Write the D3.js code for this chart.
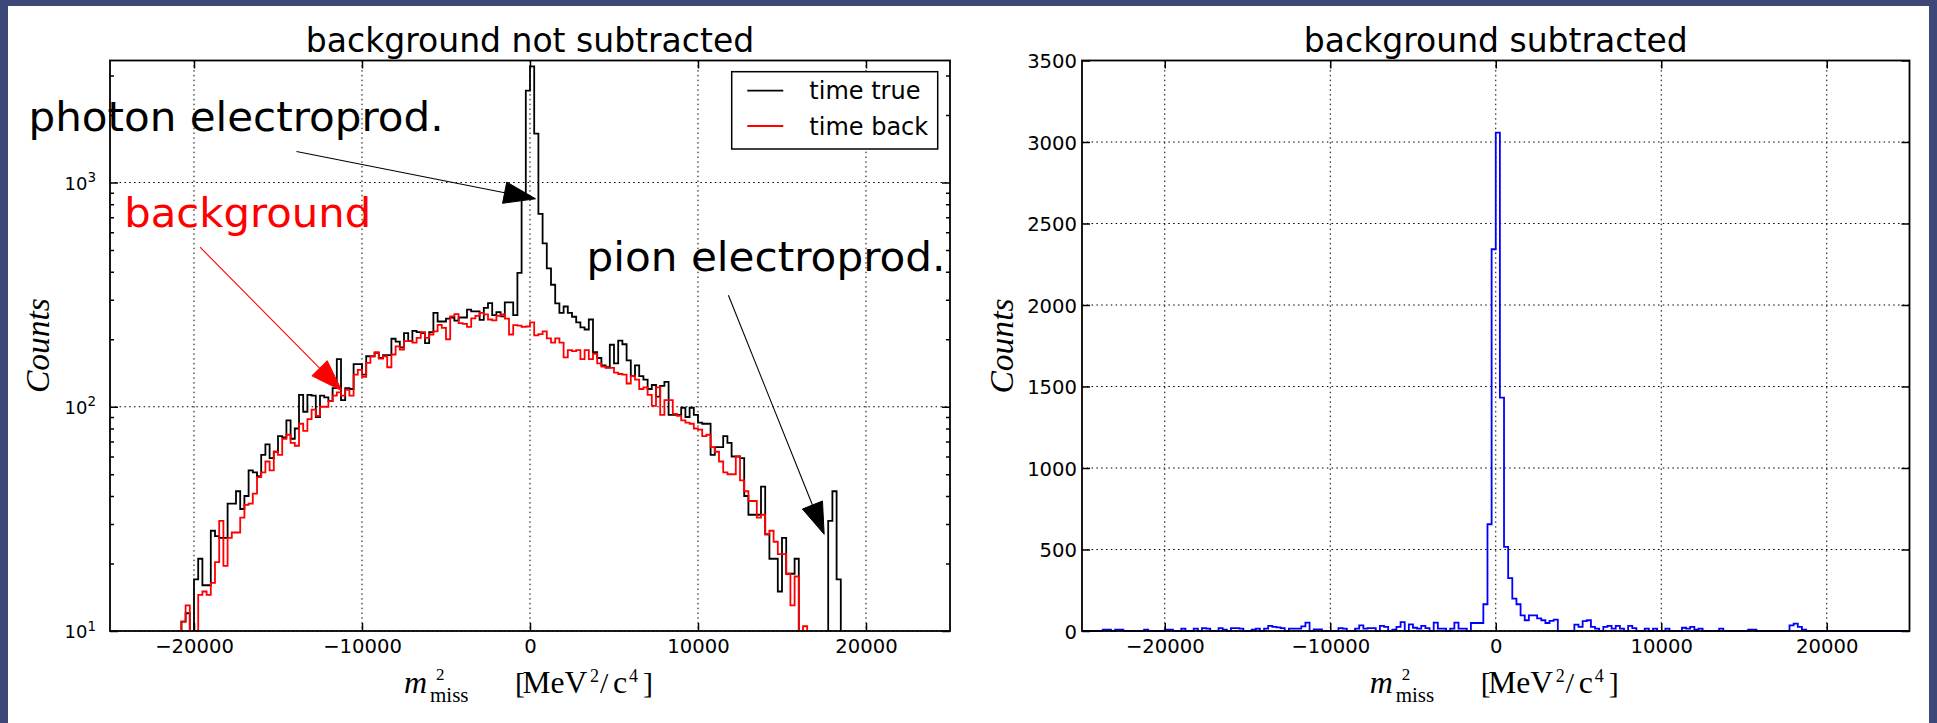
<!DOCTYPE html>
<html>
<head>
<meta charset="utf-8">
<script src="https://cdn.jsdelivr.net/npm/d3@7"></script>
<style>
  body { margin: 0; background: #3d4878; }
  svg { display: block; }
</style>
</head>
<body>
<div id="graf"></div>
<script>
// I. Datos (histogramas de 200 bins de 250 MeV^2/c^4, desde -25000)
const inicioBins = -25000
const anchoBin = 250

const timeTrue = [
  0,0,0,0,0,0,0,0,0,0, 0,0,0,0,0,0,0,11,12,0,
  17,21,16,16,28,26.5,26,26,37,37, 42,35,40,52,51,49,61,68,59,63,
  74,73,87,72,80,113,95,113,112,90, 112,110,106,121,163,107,121,120,155,155,
  139,168,168,174,165,170,170,201,195,184, 213,196,218,215,213,192,215,262,240,240,
  247,250,242,250,250,271,266,266,244,276, 290,256,264,253,292,292,256,395,880,2570,
  3296,1653,725,535,414,350,289,262,280,262, 252,238,226,221,245,175,165,153,150,189,
  156,197,190,161,137,153,137,132,120,125, 111,124,129,92,92,92,99,90,99,92,
  85,84,84,61,66,66,74,69,60,60, 59,40,33,33,33,44,27,21,21,15,
  26,18,18,21,0,0,0,0,0,0, 0,31,42,17,0,0,0,0,0,0,
  0,0,0,0,0,0,0,0,0,0, 0,0,0,0,0,0,0,0,0,0
]

const timeBack = [
  0,0,0,0,0,0,0,0,0,0, 0,0,0,0,0,0,0,11,13,0,
  9.5,14.5,15,14.5,16.4,20.3,31,19.5,26,27.5, 27.5,32,36.5,37,41,48.5,51,57,52,63,
  61,72,75,69,67,84,78,88,97,91, 100,100,106,112,116,112,119,112,139,146,
  136,157,168,175,164,168,150,171,186,180, 196,196,193,203,215,203,210,217,232,225,
  200,253,259,236,234,227,248,254,262,258, 245,243,254,258,247,210,231,230,227,228,
  238,208,211,217,202,193,202,193,166,179, 177,179,163,179,163,172,156,151,149,149,
  142,140,139,127,137,132,120,122,113,101, 122,92,107,107,93,91,87,85,84,80,
  79,74,75,66,63,57,51,50,50,60, 47,42,38,38,32,33,27,28,25,22,
  22,18,13,17.5,0,10.5,0,0,0,0, 0,0,0,0,0,0,0,0,0,0,
  0,0,0,0,0,0,0,0,0,0, 0,0,0,0,0,0,0,0,0,0
]

const restado = [
  0,0,0,0,0,8,8,0,8,8, 0,0,0,0,0,8,0,0,0,0,
  8,8,0,0,14,0,0,14,0,18, 14,0,0,18,8,0,18,18,14,0,
  0,8,14,0,14,31,25,22,18,0, 14,14,14,28,51,0,10,10,0,0,
  0,0,18,14,0,0,14,35,14,18, 18,0,31,25,0,8,25,55,0,41,
  20,14,31,18,0,51,14,14,0,14, 51,14,14,0,49,49,49,164,655,2342,
  3058,1432,516,325,199,164,96,66,96,96, 77,66,49,62,70,0,0,0,0,39,
  25,61,66,25,14,0,25,31,14,31, 14,0,31,18,0,0,14,0,14,0,
  0,14,0,0,0,20,14,25,8,14, 0,0,0,0,14,0,0,0,0,0,
  0,8,8,0,0,0,0,0,0,0, 0,35,45,25,8,0,0,0,0,0,
  0,0,0,0,0,0,0,0,0,0, 0,0,0,0,0,0,0,0,0,0
]

const xTicks = [-20000, -10000, 0, 10000, 20000]
const logTicks = [10, 100, 1000]
const logMenores = [20, 30, 40, 50, 60, 70, 80, 90, 200, 300, 400, 500, 600, 700, 800, 900, 2000, 3000]
const linTicks = [0, 500, 1000, 1500, 2000, 2500, 3000, 3500]

const leyenda = [
  { texto: 'time true', color: '#000000' },
  { texto: 'time back', color: '#ff0000' }
]

// anotaciones en coordenadas de datos (eje log)
const anotaciones = [
  { texto: 'photon electroprod.', tx: -29850, ty: 1692, largo: 415, desde: [-13900, 1374], hasta: [330, 846], color: '#000000' },
  { texto: 'background', tx: -24150, ty: 632, largo: 247, desde: [-19640, 515], hasta: [-11210, 118], color: '#ff0000' },
  { texto: 'pion electroprod.', tx: 3365, ty: 403, largo: 359, desde: [11810, 314], hasta: [17510, 27], color: '#000000' }
]

const bordes = d3.range(timeTrue.length + 1).map(i => inicioBins + i * anchoBin)

// II. Configuración
const arriba = 60.5
const abajo = 631
const fuente = 'DejaVu Sans'
const serif = 'Liberation Serif'

const svg = d3.select('#graf').append('svg')
  .attr('width', 1937)
  .attr('height', 723)

svg.append('rect')
  .attr('x', 8).attr('y', 6)
  .attr('width', 1921).attr('height', 717)
  .attr('fill', '#ffffff')

const xL = d3.scaleLinear().domain([-25000, 25000]).range([110, 950])
const yL = d3.scaleLog().domain([10, 3500]).range([abajo, arriba])
const xR = d3.scaleLinear().domain([-25000, 25000]).range([1082, 1909.5])
const yR = d3.scaleLinear().domain([0, 3500]).range([abajo, arriba])

const fmt = d => d < 0 ? '\u2212' + (-d) : String(d)

function pasos(valores, x, y, base) {
  const pts = [[x(bordes[0]), y(base)]]
  valores.forEach((v, i) => {
    pts.push([x(bordes[i]), y(v)])
    pts.push([x(bordes[i + 1]), y(v)])
  })
  pts.push([x(bordes[bordes.length - 1]), y(base)])
  return d3.line()(pts)
}

function rejilla(g, x, y, yTicks) {
  g.selectAll('.gx').data(xTicks).enter().append('line')
    .attr('x1', d => x(d)).attr('x2', d => x(d))
    .attr('y1', arriba).attr('y2', abajo)
  g.selectAll('.gy').data(yTicks).enter().append('line')
    .attr('x1', x.range()[0]).attr('x2', x.range()[1])
    .attr('y1', d => y(d)).attr('y2', d => y(d))
  g.selectAll('line')
    .attr('stroke', '#000')
    .attr('stroke-width', 1)
    .attr('stroke-dasharray', '1.5,3.3')
}

function ejesX(g, x) {
  g.append('g')
    .attr('transform', `translate(0, ${abajo})`)
    .call(d3.axisBottom(x).tickValues(xTicks).tickSizeInner(-8).tickSizeOuter(0).tickPadding(8).tickFormat(fmt))
    .attr('font-size', 19.6).attr('font-family', fuente)
    .call(a => a.select('.domain').remove())
    .call(a => a.selectAll('line').attr('stroke-width', 1.5))
  g.append('g')
    .attr('transform', `translate(0, ${arriba})`)
    .call(d3.axisTop(x).tickValues(xTicks).tickSizeInner(-8).tickSizeOuter(0).tickFormat(''))
    .call(a => a.select('.domain').remove())
    .call(a => a.selectAll('line').attr('stroke-width', 1.5))
}

function ejesY(g, x, y, valores, largo, etiquetas) {
  const izq = d3.axisLeft(y).tickValues(valores).tickSizeInner(-largo).tickSizeOuter(0).tickPadding(5)
  izq.tickFormat(etiquetas ? fmt : '')
  g.append('g')
    .attr('transform', `translate(${x.range()[0]}, 0)`)
    .call(izq)
    .attr('font-size', 19.6).attr('font-family', fuente)
    .call(a => a.select('.domain').remove())
    .call(a => a.selectAll('line').attr('stroke-width', 1.5))
    .call(a => a.selectAll('text').attr('dy', '0.36em'))
  g.append('g')
    .attr('transform', `translate(${x.range()[1]}, 0)`)
    .call(d3.axisRight(y).tickValues(valores).tickSizeInner(-largo).tickSizeOuter(0).tickFormat(''))
    .call(a => a.select('.domain').remove())
    .call(a => a.selectAll('line').attr('stroke-width', 1.5))
}

function marco(g, x) {
  g.append('rect')
    .attr('x', x.range()[0]).attr('y', arriba)
    .attr('width', x.range()[1] - x.range()[0]).attr('height', abajo - arriba)
    .attr('fill', 'none').attr('stroke', '#000').attr('stroke-width', 1.8)
}

function titulo(g, x, texto) {
  g.append('text')
    .attr('x', (x.range()[0] + x.range()[1]) / 2).attr('y', 52)
    .attr('text-anchor', 'middle')
    .attr('font-family', fuente).attr('font-size', 33)
    .text(texto)
}

function etiquetaY(g, bx, cy) {
  g.append('text')
    .attr('transform', `translate(${bx}, ${cy}) rotate(-90)`)
    .attr('text-anchor', 'middle')
    .attr('font-family', serif).attr('font-style', 'italic').attr('font-size', 33)
    .attr('textLength', 95).attr('lengthAdjust', 'spacingAndGlyphs')
    .text('Counts')
}

// etiqueta x estilo mathtext: un solo texto con tspans colocados
function etiquetaX(g, c) {
  const piezas = [
    { t: 'm', dx: -126, y: 693, s: 32, it: true },
    { t: '2', dx: -94, y: 679.5, s: 17 },
    { t: 'miss', dx: -100, y: 702, s: 21 },
    { t: '[', dx: -15, y: 693, s: 30 },
    { t: 'MeV', dx: -7.5, y: 693, s: 31.5 },
    { t: '2', dx: 60, y: 682, s: 18 },
    { t: '/', dx: 70, y: 693, s: 30 },
    { t: 'c', dx: 83, y: 693, s: 32 },
    { t: '4', dx: 99, y: 682, s: 18 },
    { t: ']', dx: 113, y: 693, s: 30 }
  ]
  const texto = g.append('text').attr('font-family', serif)
  piezas.forEach(p => {
    texto.append('tspan')
      .attr('x', c + p.dx).attr('y', p.y)
      .attr('font-size', p.s)
      .attr('font-style', p.it ? 'italic' : 'normal')
      .text(p.t)
  })
}

function flecha(g, p0, p1, color) {
  const dx = p1[0] - p0[0], dy = p1[1] - p0[1]
  const L = Math.hypot(dx, dy), ux = dx / L, uy = dy / L
  const largo = 31.5, medio = 10.8
  const bx = p1[0] - ux * largo, by = p1[1] - uy * largo
  g.append('line')
    .attr('x1', p0[0]).attr('y1', p0[1]).attr('x2', bx).attr('y2', by)
    .attr('stroke', color).attr('stroke-width', 1.1)
  g.append('path')
    .attr('d', `M${p1[0]},${p1[1]}L${bx - uy * medio},${by + ux * medio}L${bx + uy * medio},${by - ux * medio}Z`)
    .attr('fill', color).attr('stroke', color).attr('stroke-width', 1)
}

// III. Panel izquierdo (log)
const gL = svg.append('g')

gL.append('clipPath').attr('id', 'clipL').append('rect')
  .attr('x', 110).attr('y', arriba).attr('width', 840).attr('height', abajo - arriba)

rejilla(gL.append('g'), xL, yL, logTicks)

const yLog = v => yL(v > 0 ? v : 1)
const histL = gL.append('g').attr('clip-path', 'url(#clipL)')
histL.append('path')
  .attr('d', pasos(timeTrue, xL, yLog, 0))
  .attr('fill', 'none').attr('stroke', '#000000').attr('stroke-width', 1.8)
histL.append('path')
  .attr('d', pasos(timeBack, xL, yLog, 0))
  .attr('fill', 'none').attr('stroke', '#ff0000').attr('stroke-width', 1.8)

ejesX(gL, xL)
ejesY(gL, xL, yL, logTicks, 8, false)
ejesY(gL, xL, yL, logMenores, 4, false)

const labLog = gL.selectAll('.lablog').data(logTicks).enter().append('text')
  .attr('x', 96).attr('y', d => yL(d) + 7.3)
  .attr('text-anchor', 'end')
  .attr('font-family', fuente).attr('font-size', 18)
labLog.append('tspan').text('10')
labLog.append('tspan').attr('dy', -7.8).attr('font-size', 13.5).text(d => Math.round(Math.log10(d)))

marco(gL, xL)
titulo(gL, xL, 'background not subtracted')
etiquetaY(gL, 49, 345.6)
etiquetaX(gL, 530)

// leyenda
gL.append('rect')
  .attr('x', 731.7).attr('y', 71.7).attr('width', 206).attr('height', 77.3)
  .attr('fill', '#ffffff').attr('stroke', '#000').attr('stroke-width', 1.5)
leyenda.forEach((d, i) => {
  const yy = 90.7 + i * 35.3
  gL.append('line')
    .attr('x1', 747.3).attr('x2', 783.3).attr('y1', yy).attr('y2', yy)
    .attr('stroke', d.color).attr('stroke-width', 1.8)
  gL.append('text')
    .attr('x', 809.3).attr('y', yy + 8.6)
    .attr('font-family', fuente).attr('font-size', 24)
    .text(d.texto)
})

// anotaciones
anotaciones.forEach(a => {
  flecha(gL, [xL(a.desde[0]), yL(a.desde[1])], [xL(a.hasta[0]), yL(a.hasta[1])], a.color)
  gL.append('text')
    .attr('x', xL(a.tx)).attr('y', yL(a.ty))
    .attr('font-family', fuente).attr('font-size', 41.5)
    .attr('fill', a.color)
    .attr('textLength', a.largo).attr('lengthAdjust', 'spacingAndGlyphs')
    .text(a.texto)
})

// IV. Panel derecho (lineal)
const gR = svg.append('g')

gR.append('clipPath').attr('id', 'clipR').append('rect')
  .attr('x', 1082).attr('y', arriba).attr('width', 827.5).attr('height', abajo - arriba + 2)

rejilla(gR.append('g'), xR, yR, linTicks)

gR.append('g').attr('clip-path', 'url(#clipR)')
  .append('path')
  .attr('d', pasos(restado, xR, yR, 0))
  .attr('fill', 'none').attr('stroke', '#0000ff').attr('stroke-width', 1.8)

ejesX(gR, xR)
ejesY(gR, xR, yR, linTicks, 8, true)

marco(gR, xR)
titulo(gR, xR, 'background subtracted')
etiquetaY(gR, 1013, 346)
etiquetaX(gR, 1495.7)
</script>
</body>
</html>
